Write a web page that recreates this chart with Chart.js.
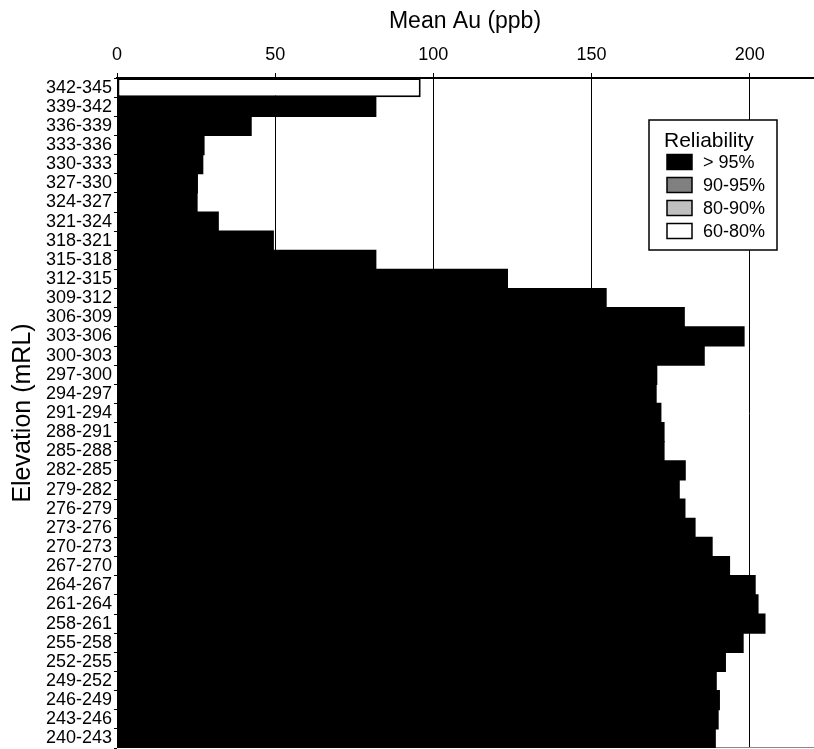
<!DOCTYPE html>
<html>
<head>
<meta charset="utf-8">
<script src="https://cdn.jsdelivr.net/npm/chart.js@4.4.1/dist/chart.umd.min.js"></script>
<style>
    body { margin: 0; background: #fff; }
    #wrap { width: 814px; height: 749px; }
</style>
</head>
<body>
<div id="wrap"><canvas id="auChart" width="814" height="749"></canvas></div>
<script>
// elevation bins, top of hole first
const elevations = [
    '342-345', '339-342', '336-339', '333-336', '330-333', '327-330', '324-327',
    '321-324', '318-321', '315-318', '312-315', '309-312', '306-309', '303-306',
    '300-303', '297-300', '294-297', '291-294', '288-291', '285-288', '282-285',
    '279-282', '276-279', '273-276', '270-273', '267-270', '264-267', '261-264',
    '258-261', '255-258', '252-255', '249-252', '246-249', '243-246', '240-243'
];

// mean Au (ppb) per bin
const meanAu = [
    96, 81.8, 42.4, 27.5, 27.1, 25.4, 25.3,
    32.0, 49.4, 81.8, 123.4, 154.6, 179.3, 198.2,
    185.6, 170.6, 170.4, 171.9, 172.9, 172.9, 179.6,
    177.7, 179.5, 182.7, 188.1, 193.6, 201.7, 202.6,
    204.8, 197.9, 192.3, 189.4, 190.4, 190.0, 189.1
];

// reliability class per bin (index into reliabilityLabels)
const reliability = [
    3, 0, 0, 0, 0, 0, 0,
    0, 0, 0, 0, 0, 0, 0,
    0, 0, 0, 0, 0, 0, 0,
    0, 0, 0, 0, 0, 0, 0,
    0, 0, 0, 0, 0, 0, 0
];

const reliabilityLabels = ['> 95%', '90-95%', '80-90%', '60-80%'];
const reliabilityColors = ['#000000', '#808080', '#c0c0c0', '#ffffff'];
const xTicks = [0, 50, 100, 150, 200];

const FONT = "'Liberation Sans', Arial, sans-serif";

// one dataset per reliability class, stacked so every bin keeps the full row
const datasets = reliabilityLabels.map((label, k) => ({
    label: label,
    data: meanAu.map((v, i) => reliability[i] === k ? v : null),
    backgroundColor: reliabilityColors[k],
    borderColor: '#000',
    borderWidth: k === 0 ? 0 : 2,
    borderSkipped: false,
    inflateAmount: k === 0 ? 0.6 : 0,
    barPercentage: 1,
    categoryPercentage: 1
}));

// boxed legend inside the plot, plus the thin bottom rule
const boxLegend = {
    id: 'boxLegend',
    beforeDatasetsDraw(chart) {
        const { ctx, chartArea } = chart;
        ctx.save();
        ctx.strokeStyle = '#888';
        ctx.lineWidth = 1;
        ctx.beginPath();
        ctx.moveTo(chartArea.left, chartArea.bottom - 0.5);
        ctx.lineTo(chartArea.right + 1, chartArea.bottom - 0.5);
        ctx.stroke();
        ctx.restore();
    },
    afterDatasetsDraw(chart, args, opts) {
        const { ctx } = chart;
        const x = opts.x, y = opts.y, w = opts.w, h = opts.h;
        ctx.save();
        ctx.fillStyle = '#fff';
        ctx.fillRect(x, y, w, h);
        ctx.strokeStyle = '#000';
        ctx.lineWidth = 1.5;
        ctx.strokeRect(x, y, w, h);

        ctx.fillStyle = '#000';
        ctx.textBaseline = 'middle';
        ctx.textAlign = 'left';
        ctx.font = '21px ' + FONT;
        ctx.fillText('Reliability', x + 15, y + 21);

        ctx.font = '18px ' + FONT;
        chart.data.datasets.forEach((ds, i) => {
            const ry = y + 42 + i * 23;
            ctx.fillStyle = ds.backgroundColor;
            ctx.fillRect(x + 18, ry - 7.5, 25, 15);
            ctx.strokeStyle = '#000';
            ctx.lineWidth = 1.5;
            ctx.strokeRect(x + 18, ry - 7.5, 25, 15);
            ctx.fillStyle = '#000';
            ctx.fillText(ds.label, x + 54, ry + 1);
        });
        ctx.restore();
    }
};

new Chart(document.getElementById('auChart').getContext('2d'), {
    type: 'bar',
    data: {
        labels: elevations,
        datasets: datasets
    },
    plugins: [boxLegend],
    options: {
        indexAxis: 'y',
        responsive: false,
        animation: false,
        devicePixelRatio: 1,
        layout: { padding: { top: 0, right: 1, bottom: 1, left: 0 } },
        plugins: {
            legend: { display: false },
            tooltip: { enabled: false },
            boxLegend: { x: 649, y: 120, w: 128, h: 130 }
        },
        scales: {
            x: {
                position: 'top',
                stacked: true,
                min: 0,
                max: 220,
                afterBuildTicks: scale => {
                    scale.ticks = xTicks.map(v => ({ value: v }));
                },
                afterFit: scale => {
                    scale.height = 78;
                    scale.paddingLeft = 0;
                    scale.paddingRight = 0;
                },
                grid: {
                    color: '#000',
                    lineWidth: 1,
                    tickLength: 5,
                    tickColor: '#000'
                },
                border: { color: '#000', width: 2 },
                ticks: {
                    color: '#000',
                    padding: 7,
                    maxRotation: 0,
                    font: { family: FONT, size: 18 }
                },
                title: {
                    display: true,
                    text: 'Mean Au (ppb)',
                    color: '#000',
                    padding: { top: 8, bottom: 0 },
                    font: { family: FONT, size: 23 }
                }
            },
            y: {
                stacked: true,
                afterFit: scale => {
                    scale.width = 117;
                    scale.paddingTop = 0;
                    scale.paddingBottom = 0;
                },
                grid: {
                    display: true,
                    drawOnChartArea: false,
                    offset: true,
                    tickLength: 3,
                    tickColor: '#000',
                    lineWidth: 1
                },
                border: { display: false },
                ticks: {
                    color: '#000',
                    padding: 2,
                    autoSkip: false,
                    font: { family: FONT, size: 18 }
                },
                title: {
                    display: true,
                    text: 'Elevation (mRL)',
                    color: '#000',
                    padding: { top: 8, bottom: 0 },
                    font: { family: FONT, size: 25 }
                }
            }
        }
    }
});
</script>
</body>
</html>
